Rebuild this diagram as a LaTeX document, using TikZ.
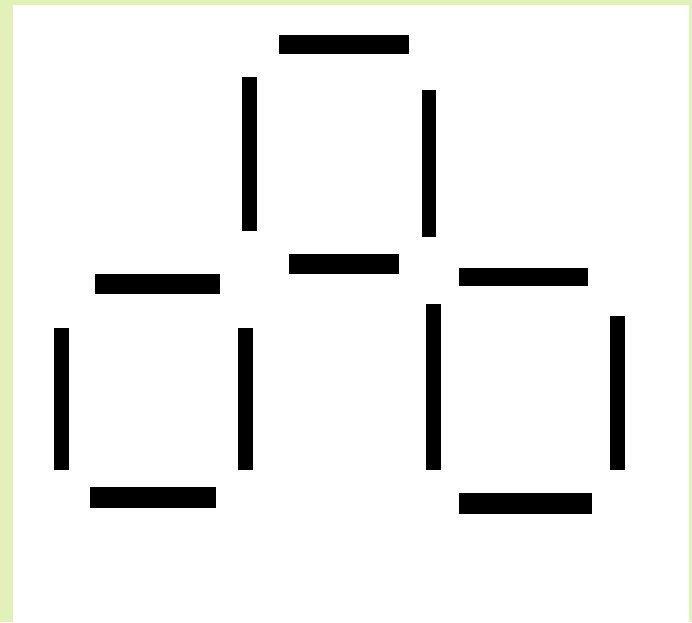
\documentclass[tikz,border=0pt]{standalone}
\definecolor{frame}{HTML}{E2F0BA}
\tikzset{stick/.style={fill=black}}
\begin{document}
\begin{tikzpicture}[x=1pt,y=-1pt]
\useasboundingbox (0,0) rectangle (692,622);
\fill[frame] (0,0) rectangle (692,622);
\fill[white] (12.5,5) rectangle (689,622);
% top square
\fill[stick] (279,35) rectangle (409,54);
\fill[stick] (242,77) rectangle (257,231);
\fill[stick] (422,90) rectangle (436,237);
\fill[stick] (289,254) rectangle (399,274);
% left square
\fill[stick] (95,274) rectangle (220,294);
\fill[stick] (54,328) rectangle (69,470);
\fill[stick] (238,328) rectangle (253,470);
\fill[stick] (90,487) rectangle (216,508);
% right square
\fill[stick] (459,268) rectangle (588,286);
\fill[stick] (426,304) rectangle (441,470);
\fill[stick] (610,316) rectangle (625,470);
\fill[stick] (459,493) rectangle (592,514);
\end{tikzpicture}
\end{document}
